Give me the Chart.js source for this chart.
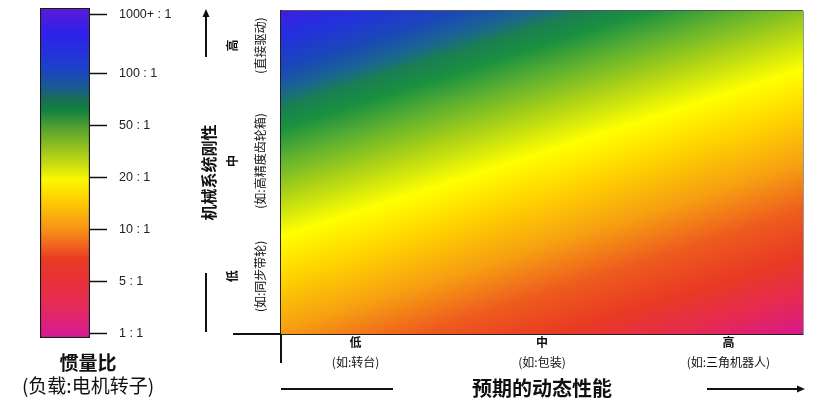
<!DOCTYPE html>
<html>
<head>
<meta charset="utf-8">
<script src="https://cdn.jsdelivr.net/npm/chart.js@4.4.1/dist/chart.umd.min.js"></script>
<style>
	body { margin: 0; background: #fff; width: 828px; height: 402px; overflow: hidden; position: relative; }
	canvas { position: absolute; top: 0; }
	#bar { left: 0; }
	#map { left: 176px; }
</style>
</head>
<body>
<canvas id="bar" width="176" height="402"></canvas>
<canvas id="map" width="652" height="402"></canvas>
<script>
// colour bar: inertia ratio labels and where they sit on the bar
var ratioLabels = ['1 : 1', '5 : 1', '10 : 1', '20 : 1', '50 : 1', '100 : 1', '1000+ : 1'];
var ratioTicks = [0, 1, 2, 3, 4, 5, 6.15];

// x: expected dynamic performance, y: mechanical stiffness
var levelTicks = [0, 1, 2];
var perfLevels = ['低', '中', '高'];
var perfExamples = ['(如:转台)', '(如:包装)', '(如:三角机器人)'];
var stiffLevels = ['低', '中', '高'];
var stiffExamples = ['(如:同步带轮)', '(如:高精度齿轮箱)', '(直接驱动)'];

// colour ramps, top of bar -> bottom, and top-left of map -> bottom-right
var barStops = [[0, '#5a1ad8'], [0.08, '#2c22ea'], [0.18, '#1c40cc'], [0.24, '#1a5a92'], [0.28, '#17704f'],
	[0.31, '#118240'], [0.36, '#50a030'], [0.42, '#90c020'], [0.48, '#d0e010'], [0.52, '#fcf800'],
	[0.58, '#ffd000'], [0.64, '#f8a812'], [0.68, '#f58a18'], [0.72, '#f06220'], [0.76, '#e83c24'],
	[0.83, '#e8303a'], [0.91, '#e42a5c'], [1, '#d41a98']];
var mapStops = [[0, '#3a1ee8'], [0.06, '#2232da'], [0.12, '#1a48b8'], [0.165, '#1a6690'], [0.20, '#1a8050'],
	[0.24, '#1a9040'], [0.30, '#5cb030'], [0.37, '#a8d018'], [0.46, '#ffff00'], [0.55, '#ffd200'],
	[0.65, '#f6a012'], [0.75, '#ee5a1e'], [0.84, '#e83a24'], [0.92, '#e62a50'], [1, '#d8188c']];
var contourSlope = -0.32; // colour bands run up to the right

var CJK = '"Noto Sans CJK SC", "Noto Sans", sans-serif';
var LAT = '"Liberation Sans", Arial, sans-serif';
Chart.defaults.font.family = CJK;
Chart.defaults.color = '#111';
Chart.defaults.animation = false;

function noPadY(s) { s.paddingTop = 0; s.paddingBottom = 0; }
function noPadX(s) { s.paddingLeft = 0; s.paddingRight = 0; }

function widest(labels, font) {
	var c = document.createElement('canvas').getContext('2d');
	c.font = font;
	return Math.max.apply(null, labels.map(function(t) { return c.measureText(t).width; }));
}

// ---------- colour bar ----------
var barMin = -0.08, barMax = 6.27;

new Chart(document.getElementById('bar'), {
	type : 'bar',
	data : {
		labels : ['惯量比'],
		datasets : [{
			yAxisID : 'y',
			data : [[barMin, barMax]],
			backgroundColor : function(c) {
				var a = c.chart.chartArea;
				if (!a) return 'transparent';
				var g = c.chart.ctx.createLinearGradient(0, a.top, 0, a.bottom);
				barStops.forEach(function(s) { g.addColorStop(s[0], s[1]); });
				return g;
			},
			borderColor : '#1a1a1a',
			borderWidth : 1.5,
			borderSkipped : false,
			barPercentage : 1,
			categoryPercentage : 1
		}]
	},
	options : {
		responsive : false,
		devicePixelRatio : 1,
		events : [],
		layout : { padding : { top : 8, bottom : 0, left : 0, right : 0 } },
		plugins : {
			legend : { display : false },
			tooltip : { enabled : false },
			title : { display : true, text : '惯量比', position : 'bottom', weight : 1000,
				font : { size : 19, weight : 'bold' }, padding : { top : 13.6, bottom : 0 } },
			subtitle : { display : true, text : '(负载:电机转子)', position : 'bottom', weight : 1500,
				font : { size : 19 }, padding : { top : 0, bottom : 4.8 } }
		},
		scales : {
			x : { display : false },
			yPad : {
				type : 'linear', position : 'left', display : true,
				ticks : { display : false }, grid : { display : false }, border : { display : false },
				afterFit : function(s) { s.width = 40; noPadY(s); }
			},
			y : {
				type : 'linear', position : 'right', min : barMin, max : barMax,
				afterBuildTicks : function(s) { s.ticks = ratioTicks.map(function(v) { return { value : v }; }); },
				ticks : {
					autoSkip : false, padding : 12, color : '#222',
					font : { family : LAT, size : 12.5 },
					callback : function(v, i) { return ratioLabels[i]; }
				},
				grid : { drawOnChartArea : false, tickLength : 17, tickWidth : 1.5, tickColor : '#111' },
				border : { display : false },
				afterFit : function(s) { s.width = 86; noPadY(s); }
			}
		}
	}
});

// ---------- stiffness / performance map ----------
var xMin = -0.4, xMax = 2.4, yMin = -0.5, yMax = 2.3;
var subFont = '12px ' + CJK, nameFont = 'bold 12px ' + CJK;

function line(ctx, x1, y1, x2, y2) {
	ctx.beginPath(); ctx.moveTo(x1, y1); ctx.lineTo(x2, y2); ctx.stroke();
}

var axisDecor = {
	id : 'axisDecor',
	afterDraw : function(chart) {
		var ctx = chart.ctx, a = chart.chartArea;
		ctx.save();
		ctx.strokeStyle = '#111';
		ctx.fillStyle = '#111';
		ctx.lineWidth = 2;
		// tails where the two axes cross
		line(ctx, a.left, a.bottom, a.left, a.bottom + 29);
		line(ctx, a.left - 48, a.bottom, a.left, a.bottom);
		// stiffness arrow
		var ax = a.left - 75;
		line(ctx, ax, a.top + 46, ax, a.top + 4);
		ctx.beginPath(); ctx.moveTo(ax, a.top - 2); ctx.lineTo(ax - 3.5, a.top + 6); ctx.lineTo(ax + 3.5, a.top + 6); ctx.fill();
		line(ctx, ax, a.bottom - 61, ax, a.bottom - 2);
		// performance arrow
		var ay = a.bottom + 55;
		line(ctx, a.left, ay, a.left + 112, ay);
		line(ctx, a.right - 96, ay, a.right - 4, ay);
		ctx.beginPath(); ctx.moveTo(a.right + 2, ay); ctx.lineTo(a.right - 6, ay - 3.5); ctx.lineTo(a.right - 6, ay + 3.5); ctx.fill();
		ctx.restore();
	}
};

function levelLabel(list) {
	return function(v) { var i = levelTicks.indexOf(v); return i < 0 ? '' : list[i]; };
}

new Chart(document.getElementById('map'), {
	type : 'line',
	data : {
		datasets : [{
			data : [{ x : xMin, y : yMax }, { x : xMax, y : yMax }],
			fill : 'start',
			pointRadius : 0,
			borderWidth : 0,
			backgroundColor : function(c) {
				var a = c.chart.chartArea;
				if (!a) return 'transparent';
				var ux = -contourSlope, uy = 1, n = Math.hypot(ux, uy);
				ux /= n; uy /= n;
				var len = (a.right - a.left) * ux + (a.bottom - a.top) * uy;
				var g = c.chart.ctx.createLinearGradient(a.left, a.top, a.left + len * ux, a.top + len * uy);
				mapStops.forEach(function(s) { g.addColorStop(s[0], s[1]); });
				return g;
			}
		}]
	},
	plugins : [axisDecor],
	options : {
		responsive : false,
		devicePixelRatio : 1,
		events : [],
		layout : { padding : { top : 11, right : 25, bottom : 0, left : 0 } },
		plugins : { legend : { display : false }, tooltip : { enabled : false } },
		scales : {
			x : {
				type : 'linear', position : 'bottom', min : xMin, max : xMax, weight : 0,
				afterBuildTicks : function(s) { s.ticks = [xMin].concat(levelTicks, [xMax]).map(function(v) { return { value : v }; }); },
				ticks : { autoSkip : false, maxRotation : 0, padding : 1, font : { size : 12, weight : 'bold' }, callback : levelLabel(perfLevels) },
				grid : { drawTicks : false, lineWidth : 1.5, color : function(c) { return c.tick && c.tick.value === xMax ? '#333' : 'transparent'; } },
				border : { color : '#222', width : 2 },
				afterFit : function(s) { s.height = 15; noPadX(s); }
			},
			xSub : {
				type : 'linear', axis : 'x', position : 'bottom', min : xMin, max : xMax, weight : 1,
				afterBuildTicks : function(s) { s.ticks = levelTicks.map(function(v) { return { value : v }; }); },
				ticks : { autoSkip : false, maxRotation : 0, padding : -2, font : { size : 12 }, callback : levelLabel(perfExamples) },
				grid : { display : false },
				border : { display : false },
				title : { display : true, text : '预期的动态性能', font : { size : 20, weight : 'bold' }, padding : { top : 6, bottom : 2 } },
				afterFit : function(s) { s.height = 53; noPadX(s); }
			},
			y : {
				type : 'linear', position : 'left', min : yMin, max : yMax, weight : 0,
				afterBuildTicks : function(s) { s.ticks = [yMin].concat(levelTicks, [yMax]).map(function(v) { return { value : v }; }); },
				ticks : {
					autoSkip : false, minRotation : 90, maxRotation : 90, crossAlign : 'center',
					padding : 21 - widest(stiffExamples, subFont) / 2,
					font : { size : 12 }, callback : levelLabel(stiffExamples)
				},
				grid : { drawTicks : false, lineWidth : 1.5, color : function(c) { return c.tick && c.tick.value === yMax ? '#555' : 'transparent'; } },
				border : { color : '#222', width : 2 },
				afterFit : function(s) { s.width = 30; noPadY(s); }
			},
			yName : {
				type : 'linear', axis : 'y', position : 'left', min : yMin, max : yMax, weight : 1,
				afterBuildTicks : function(s) { s.ticks = levelTicks.map(function(v) { return { value : v }; }); },
				ticks : {
					autoSkip : false, minRotation : 90, maxRotation : 90, crossAlign : 'center',
					padding : 11 - widest(stiffLevels, nameFont) / 2,
					font : { size : 12, weight : 'bold' }, callback : levelLabel(stiffLevels)
				},
				grid : { display : false },
				border : { display : false },
				title : { display : true, text : '机械系统刚性', font : { size : 16, weight : 'bold' }, padding : { top : 23, bottom : 0 } },
				afterFit : function(s) { s.width = 75; noPadY(s); }
			}
		}
	}
});
</script>
</body>
</html>
